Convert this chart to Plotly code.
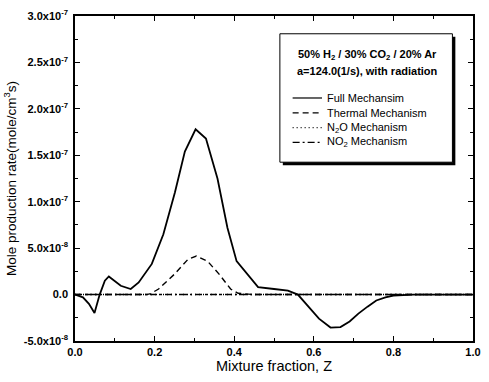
import plotly.graph_objects as go

# ---- data (mole production rate, in units of 1e-8 mole/cm^3 s) ----
SCALE = 1e-8
z_full = [0.0, 0.02, 0.035, 0.049, 0.062, 0.075, 0.085, 0.10, 0.115, 0.14, 0.16,
          0.193, 0.222, 0.251, 0.276, 0.303, 0.329, 0.358, 0.383, 0.406, 0.428,
          0.46, 0.50, 0.535, 0.56, 0.585, 0.613, 0.642, 0.667, 0.69, 0.712,
          0.735, 0.757, 0.78, 0.80, 0.85, 0.90, 1.0]
full = [0.0, -0.3, -1.0, -1.98, 0.0, 1.5, 1.95, 1.4, 0.95, 0.6, 1.3,
        3.3, 6.5, 11.0, 15.4, 17.8, 16.8, 12.5, 7.2, 3.6, 2.5,
        0.8, 0.6, 0.43, 0.0, -1.2, -2.6, -3.55, -3.5, -2.9, -2.05,
        -1.3, -0.64, -0.3, -0.1, 0.0, 0.0, 0.0]

z_thermal = [0.0, 0.10, 0.18, 0.19, 0.21, 0.25, 0.284, 0.305, 0.333, 0.362,
             0.391, 0.41, 0.43, 0.45, 0.6, 0.8, 1.0]
thermal = [0.0, 0.0, 0.0, 0.1, 0.6, 2.2, 3.8, 4.15, 3.6, 2.2,
           0.6, 0.14, 0.05, 0.0, 0.0, 0.0, 0.0]

z_minor = [0.0, 0.2, 0.4, 0.6, 0.8, 1.0]
n2o = [0.0, 0.0, 0.0, 0.0, 0.0, 0.0]
no2 = [0.0, 0.0, 0.0, 0.0, 0.0, 0.0]

y_tickvals = [-5e-8, 0.0, 5e-8, 1e-7, 1.5e-7, 2e-7, 2.5e-7, 3e-7]
y_ticktext = ["-5.0x10<sup>-8</sup>", "0.0", "5.0x10<sup>-8</sup>",
              "1.0x10<sup>-7</sup>", "1.5x10<sup>-7</sup>", "2.0x10<sup>-7</sup>",
              "2.5x10<sup>-7</sup>", "3.0x10<sup>-7</sup>"]
x_tickvals = [0.0, 0.2, 0.4, 0.6, 0.8, 1.0]
x_ticktext = ["0.0", "0.2", "0.4", "0.6", "0.8", "1.0"]

legend_names = ["Full Mechansim", "Thermal Mechanism",
                "N<sub>2</sub>O Mechanism", "NO<sub>2</sub> Mechanism"]
legend_dashes = ["solid", "6px,4px", "1px,3px", "7px,3px,2px,3px"]
header = ["50% H<sub>2</sub> / 30% CO<sub>2</sub> / 20% Ar",
          "a=124.0(1/s), with radiation"]

FONT = "Liberation Sans, Arial, sans-serif"
W, H = 489, 382
L, R, T, B = 75, 8, 12, 41
PW, PH = W - L - R, H - T - B


def px(x):
    return (x - L) / PW


def py(y):
    return (H - B - y) / PH


fig = go.Figure()
series = [(z_full, full), (z_thermal, thermal), (z_minor, n2o), (z_minor, no2)]
for (zx, vals), name, dash in zip(series, legend_names, legend_dashes):
    fig.add_trace(go.Scatter(
        x=zx, y=[v * SCALE for v in vals], mode="lines", name=name,
        line=dict(color="black", width=1.8 if dash == "solid" else 1.4, dash=dash),
        showlegend=False))

shapes = []
annotations = []
# legend box with shadow
bx0, bx1, by0, by1 = 284, 460, 30, 160
shapes.append(dict(type="rect", xref="paper", yref="paper",
                   x0=px(bx0 + 3), x1=px(bx1 + 3), y0=py(by1 + 3), y1=py(by0 + 3),
                   fillcolor="black", line=dict(width=0), layer="above"))
shapes.append(dict(type="rect", xref="paper", yref="paper",
                   x0=px(bx0), x1=px(bx1), y0=py(by1), y1=py(by0),
                   fillcolor="white", line=dict(color="black", width=1), layer="above"))
for i, txt in enumerate(header):
    annotations.append(dict(xref="paper", yref="paper", x=px(373), y=py(51 + 17 * i),
                            text="<b>" + txt + "</b>", showarrow=False,
                            xanchor="center", yanchor="middle",
                            font=dict(family=FONT, size=11, color="black")))
for i, (name, dash) in enumerate(zip(legend_names, legend_dashes)):
    yy = 95 + 15 * i
    shapes.append(dict(type="line", xref="paper", yref="paper",
                       x0=px(297), x1=px(327), y0=py(yy), y1=py(yy),
                       line=dict(color="black", width=1.2, dash=dash), layer="above"))
    annotations.append(dict(xref="paper", yref="paper", x=px(330), y=py(yy),
                            text=name, showarrow=False, xanchor="left", yanchor="middle",
                            font=dict(family=FONT, size=11, color="black")))

tickfont = dict(family=FONT, size=11, color="black")
axis_common = dict(showline=True, linecolor="black", linewidth=1.6, mirror="ticks",
                   ticks="inside", ticklen=5, tickwidth=1.2, tickcolor="black",
                   showgrid=False, zeroline=False, tickfont=tickfont)

fig.update_layout(
    width=W, height=H, margin=dict(l=L, r=R, t=T, b=B),
    paper_bgcolor="white", plot_bgcolor="white",
    shapes=shapes, annotations=annotations, showlegend=False,
    xaxis=dict(range=[0, 1], tickmode="array", tickvals=x_tickvals,
               ticktext=["<b>" + t + "</b>" for t in x_ticktext],
               minor=dict(ticks="inside", ticklen=3, tick0=0, dtick=0.1, tickcolor="black"),
               title=dict(text="Mixture fraction, Z", standoff=2,
                          font=dict(family=FONT, size=14.5, color="black")),
               **axis_common),
    yaxis=dict(range=[-5e-8, 3e-7], tickmode="array", tickvals=y_tickvals,
               ticktext=["<b>" + t + "</b>" for t in y_ticktext],
               ticklabelstandoff=3,
               minor=dict(ticks="inside", ticklen=3, tick0=0, dtick=2.5e-8, tickcolor="black"),
               title=dict(text="Mole production rate(mole/cm<sup>3</sup>s)", standoff=4,
                          font=dict(family=FONT, size=13.5, color="black")),
               **axis_common),
)

fig.write_html("out.html", config={"displayModeBar": False},
               post_script="document.body.style.margin='0';")
